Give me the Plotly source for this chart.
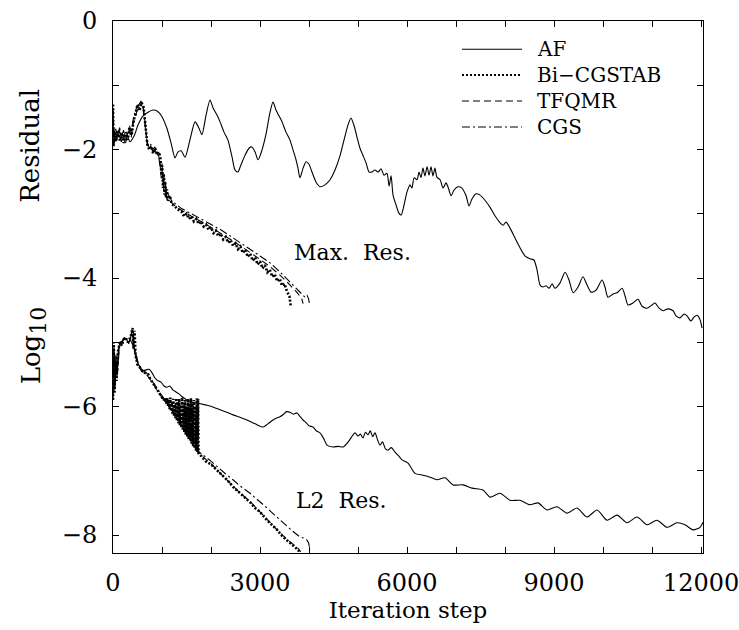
import plotly.graph_objects as go

# ---------------- data (iteration step, log10 residual) ----------------
AF_MAX_X = [0, 60, 120, 185, 265, 345, 430, 510, 610, 715, 815, 900, 1000, 1100, 1185, 1265, 1325, 1390, 1470,
            1570, 1675, 1755, 1815, 1900, 1980, 2040, 2120, 2185, 2265, 2345, 2430, 2490, 2550, 2610, 2695,
            2775, 2835, 2900, 2960, 3040, 3120, 3205, 3265, 3325, 3390, 3450, 3530, 3610, 3675, 3735, 3775,
            3815, 3880, 3940, 4000, 4060, 4145, 4225, 4325, 4430, 4530, 4635, 4715, 4795, 4855, 4920, 4980,
            5040, 5100, 5165, 5225, 5285, 5345, 5410, 5470, 5530, 5590, 5635, 5675, 5715, 5775, 5835, 5880,
            5940, 6000, 6060, 6100, 6145, 6205, 6245, 6285, 6325, 6365, 6410, 6450, 6490, 6530, 6570, 6610,
            6675, 6735, 6795, 6835, 6900, 6960, 7040, 7120, 7205, 7265, 7325, 7410, 7490, 7590, 7695, 7795,
            7900, 7960, 8020, 8100, 8205, 8305, 8410, 8510, 8590, 8655, 8715, 8775, 8840, 8900, 8960, 9020,
            9120, 9225, 9305, 9390, 9490, 9590, 9675, 9755, 9855, 9980, 10040, 10100, 10205, 10285, 10390,
            10450, 10510, 10610, 10715, 10795, 10900, 11000, 11060, 11145, 11225, 11325, 11430, 11490, 11570,
            11655, 11715, 11795, 11855, 11920, 11980, 12020]
AF_MAX_Y = [-1.62, -1.85, -1.70, -1.82, -1.73, -1.88, -1.79, -1.62, -1.48, -1.42, -1.385, -1.40, -1.49, -1.67,
            -1.90, -2.13, -2.04, -2.02, -2.12, -1.85, -1.57, -1.67, -1.77, -1.46, -1.23, -1.35, -1.46, -1.57,
            -1.73, -1.85, -2.12, -2.32, -2.35, -2.24, -2.09, -1.98, -1.96, -2.04, -2.16, -2.01, -1.77, -1.42,
            -1.26, -1.385, -1.48, -1.57, -1.73, -1.85, -2.01, -2.16, -2.29, -2.44, -2.29, -2.19, -2.23, -2.35,
            -2.51, -2.58, -2.55, -2.47, -2.32, -2.09, -1.85, -1.62, -1.51, -1.63, -1.81, -1.98, -2.09, -2.21,
            -2.35, -2.35, -2.32, -2.35, -2.30, -2.40, -2.37, -2.57, -2.41, -2.71, -2.86, -2.99, -3.02, -2.86,
            -2.66, -2.55, -2.60, -2.44, -2.47, -2.35, -2.44, -2.29, -2.41, -2.27, -2.40, -2.27, -2.41, -2.29,
            -2.43, -2.47, -2.60, -2.52, -2.58, -2.72, -2.63, -2.58, -2.60, -2.72, -2.88, -2.77, -2.69, -2.71,
            -2.79, -2.90, -3.03, -3.14, -3.18, -3.13, -3.22, -3.38, -3.53, -3.66, -3.70, -3.72, -3.88, -4.11,
            -4.14, -4.12, -4.16, -4.09, -4.16, -4.08, -3.91, -4.03, -4.23, -4.14, -3.98, -4.11, -4.22, -4.19,
            -4.03, -4.14, -4.30, -4.25, -4.23, -4.16, -4.28, -4.42, -4.39, -4.33, -4.44, -4.47, -4.42, -4.39,
            -4.47, -4.51, -4.48, -4.51, -4.59, -4.62, -4.56, -4.59, -4.67, -4.61, -4.58, -4.65, -4.78]

BI_MAX_X = [0, 10, 30, 60, 100, 140, 180, 220, 260, 300, 340, 380, 420, 460, 500, 540, 580, 620, 660, 700, 740,
            780, 820, 860, 900, 940, 970, 990, 1005, 1020, 1035, 1050, 1065, 1080, 1100, 1130, 1160, 1200, 1260,
            1320, 1400, 1450, 1500, 1550, 1600, 1650, 1700, 1750, 1800, 1850, 1900, 1950, 2000, 2050, 2100,
            2150, 2200, 2250, 2300, 2350, 2400, 2450, 2500, 2550, 2600, 2650, 2700, 2750, 2800, 2850, 2900,
            2950, 3000, 3050, 3100, 3150, 3200, 3250, 3300, 3350, 3400, 3450, 3500, 3550, 3600, 3630]
BI_MAX_Y = [-1.30, -1.95, -1.72, -1.88, -1.70, -1.86, -1.74, -1.90, -1.76, -1.85, -1.66, -1.78, -1.55, -1.45,
            -1.30, -1.40, -1.27, -1.32, -1.60, -1.92, -2.00, -1.95, -2.06, -1.98, -2.08, -2.04, -2.15, -2.40,
            -2.25, -2.60, -2.38, -2.70, -2.50, -2.75, -2.62, -2.80, -2.72, -2.85, -2.88, -2.93, -2.97, -3.04,
            -3.00, -3.08, -3.04, -3.12, -3.08, -3.16, -3.12, -3.20, -3.17, -3.25, -3.21, -3.30, -3.26, -3.35,
            -3.31, -3.40, -3.36, -3.45, -3.41, -3.50, -3.46, -3.55, -3.51, -3.61, -3.56, -3.67, -3.62, -3.73,
            -3.68, -3.79, -3.74, -3.85, -3.80, -3.91, -3.87, -3.98, -3.94, -4.05, -4.01, -4.12, -4.09, -4.21,
            -4.28, -4.45]

TF_MAX_X = [0, 20, 50, 90, 130, 170, 210, 250, 290, 330, 370, 410, 450, 490, 530, 570, 610, 650, 690, 730, 770,
            810, 850, 890, 930, 960, 985, 1010, 1040, 1070, 1100, 1150, 1200, 1300, 1400, 1600, 1800, 2000, 2200,
            2400, 2600, 2800, 3000, 3200, 3400, 3600, 3750, 3850, 3880]
TF_MAX_Y = [-1.35, -1.90, -1.75, -1.85, -1.72, -1.88, -1.78, -1.92, -1.80, -1.70, -1.82, -1.60, -1.50, -1.38,
            -1.30, -1.25, -1.30, -1.55, -1.85, -1.98, -1.94, -2.03, -2.00, -2.06, -2.10, -2.20, -2.45, -2.30,
            -2.65, -2.55, -2.78, -2.76, -2.83, -2.90, -2.95, -3.04, -3.12, -3.21, -3.30, -3.40, -3.50, -3.60,
            -3.71, -3.82, -3.95, -4.10, -4.22, -4.32, -4.40]

CG_MAX_X = [0, 25, 55, 95, 135, 175, 215, 255, 295, 335, 375, 415, 455, 495, 535, 575, 615, 655, 695, 735, 775,
            815, 855, 895, 935, 965, 1000, 1030, 1060, 1090, 1130, 1200, 1300, 1400, 1600, 1800, 2000, 2200,
            2400, 2600, 2800, 3000, 3200, 3400, 3600, 3800, 3920, 3960, 3990, 4010]
CG_MAX_Y = [-1.40, -1.80, -1.68, -1.82, -1.66, -1.80, -1.70, -1.86, -1.74, -1.62, -1.75, -1.52, -1.40, -1.33,
            -1.36, -1.28, -1.35, -1.65, -1.90, -1.96, -1.92, -2.00, -1.96, -2.05, -2.12, -2.30, -2.22, -2.55,
            -2.45, -2.72, -2.70, -2.80, -2.86, -2.92, -3.00, -3.08, -3.16, -3.25, -3.35, -3.45, -3.55, -3.65,
            -3.76, -3.90, -4.05, -4.20, -4.30, -4.27, -4.32, -4.40]

AF_L2_X = [0, 15, 35, 55, 80, 110, 150, 190, 230, 270, 310, 350, 390, 430, 470, 510, 560, 620, 680, 740, 800,
           860, 920, 980, 1040, 1100, 1160, 1220, 1280, 1340, 1400, 1470, 1550, 1650, 1750, 1850, 1920, 2050,
           2185, 2320, 2450, 2600, 2735, 2900, 3060, 3160, 3265, 3340, 3408, 3480, 3540, 3612, 3680, 3755, 3810,
           3878, 3940, 4000, 4082, 4150, 4224, 4300, 4367, 4490, 4600, 4700, 4800, 4939, 5000, 5050, 5102, 5150,
           5204, 5250, 5300, 5347, 5400, 5449, 5500, 5560, 5612, 5680, 5755, 5820, 5898, 6020, 6163, 6327, 6469,
           6612, 6776, 6939, 7143, 7327, 7551, 7694, 7898, 8102, 8306, 8510, 8673, 8857, 9061, 9265, 9469, 9673,
           9878, 10082, 10286, 10490, 10694, 10898, 11102, 11306, 11510, 11673, 11837, 11980, 12040]
AF_L2_Y = [-5.90, -5.10, -5.75, -5.25, -5.55, -5.12, -5.00, -4.98, -4.93, -4.95, -5.00, -4.96, -5.02, -5.10,
           -5.25, -5.33, -5.40, -5.44, -5.43, -5.42, -5.48, -5.56, -5.60, -5.62, -5.68, -5.70, -5.68, -5.74,
           -5.77, -5.80, -5.84, -5.88, -5.92, -5.94, -5.95, -5.97, -5.98, -6.01, -6.05, -6.09, -6.13, -6.17,
           -6.21, -6.27, -6.32, -6.27, -6.21, -6.18, -6.16, -6.12, -6.08, -6.09, -6.12, -6.10, -6.15, -6.21,
           -6.25, -6.30, -6.32, -6.38, -6.41, -6.50, -6.60, -6.63, -6.62, -6.63, -6.55, -6.41, -6.46, -6.43,
           -6.49, -6.40, -6.44, -6.38, -6.47, -6.41, -6.52, -6.60, -6.55, -6.66, -6.68, -6.64, -6.71, -6.76,
           -6.83, -6.88, -7.04, -7.07, -7.10, -7.14, -7.11, -7.22, -7.22, -7.27, -7.30, -7.41, -7.35, -7.46,
           -7.46, -7.53, -7.50, -7.61, -7.56, -7.66, -7.58, -7.72, -7.61, -7.77, -7.69, -7.81, -7.72, -7.84,
           -7.77, -7.88, -7.81, -7.84, -7.92, -7.88, -7.80]

BI_L2_X = [0, 15, 30, 50, 70, 100, 140, 180, 220, 260, 300, 340, 370, 400, 420, 440, 460, 500, 540, 600, 660,
           720, 760, 820, 880, 930, 990, 1005, 1020, 1035, 1050, 1065, 1080, 1095, 1110, 1125, 1140, 1155, 1170,
           1185, 1200, 1215, 1230, 1245, 1260, 1275, 1290, 1305, 1320, 1335, 1350, 1365, 1380, 1395, 1410, 1425,
           1440, 1455, 1470, 1485, 1500, 1515, 1530, 1545, 1560, 1575, 1590, 1605, 1620, 1635, 1650, 1665, 1680,
           1695, 1710, 1725, 1735, 1745, 1800, 1900, 2000, 2122, 2250, 2350, 2449, 2550, 2650, 2796, 2900, 3000,
           3143, 3250, 3350, 3469, 3580, 3680, 3776, 3810]
BI_L2_Y = [-5.90, -5.00, -5.80, -5.30, -5.60, -5.15, -5.00, -5.05, -4.95, -4.93, -5.00, -4.95, -4.88, -4.78,
           -5.10, -4.82, -5.20, -5.35, -5.38, -5.45, -5.48, -5.50, -5.57, -5.64, -5.71, -5.77, -5.84, -5.86,
           -5.88, -5.90, -5.86, -5.93, -5.90, -5.97, -5.87, -6.00, -5.92, -6.04, -5.86, -6.07, -5.95, -6.11,
           -5.88, -6.15, -5.97, -6.18, -5.87, -6.22, -5.93, -6.26, -5.88, -6.29, -5.98, -6.33, -5.86, -6.36,
           -5.94, -6.40, -5.90, -6.44, -6.00, -6.47, -5.88, -6.51, -5.96, -6.54, -5.87, -6.58, -5.95, -6.62,
           -5.90, -6.65, -6.00, -6.69, -5.87, -6.72, -5.88, -6.73, -6.77, -6.86, -6.90, -6.99, -7.10, -7.16,
           -7.25, -7.32, -7.40, -7.49, -7.58, -7.64, -7.77, -7.85, -7.92, -8.03, -8.10, -8.17, -8.23, -8.27]

TF_L2_X = [0, 20, 40, 60, 90, 120, 160, 200, 240, 280, 320, 360, 395, 415, 450, 490, 540, 600, 680, 760, 850,
           950, 1050, 1100, 1150, 1200, 1260, 1320, 1380, 1440, 1500, 1560, 1620, 1680, 1730, 1800, 2000, 2200,
           2400, 2600, 2800, 3000, 3200, 3400, 3600, 3780, 3830]
TF_L2_Y = [-5.85, -5.05, -5.70, -5.20, -5.50, -5.10, -5.02, -4.97, -4.94, -4.97, -5.02, -4.92, -4.80, -5.05,
           -5.15, -5.30, -5.40, -5.46, -5.50, -5.58, -5.68, -5.79, -5.92, -5.88, -6.02, -5.95, -6.14, -6.08,
           -6.26, -6.22, -6.40, -6.38, -6.55, -6.52, -6.70, -6.76, -6.89, -7.05, -7.20, -7.35, -7.48, -7.64,
           -7.80, -7.96, -8.10, -8.21, -8.26]

CG_L2_X = [0, 25, 45, 65, 95, 130, 170, 210, 250, 290, 330, 365, 395, 425, 455, 495, 545, 610, 690, 770, 860,
           960, 1060, 1120, 1180, 1240, 1300, 1360, 1420, 1480, 1540, 1600, 1660, 1720, 1776, 1950, 2122, 2300,
           2449, 2600, 2796, 3000, 3143, 3300, 3469, 3650, 3816, 3900, 3959, 3990, 4020]
CG_L2_Y = [-5.80, -5.15, -5.65, -5.22, -5.45, -5.08, -5.00, -4.96, -4.95, -4.98, -5.03, -4.90, -4.85, -5.08,
           -5.12, -5.28, -5.38, -5.44, -5.48, -5.58, -5.67, -5.78, -5.90, -5.96, -6.04, -6.10, -6.17, -6.24,
           -6.32, -6.40, -6.47, -6.55, -6.62, -6.68, -6.72, -6.82, -6.94, -7.05, -7.14, -7.24, -7.35, -7.48,
           -7.58, -7.69, -7.81, -7.93, -8.03, -8.05, -8.08, -8.12, -8.23]

METHODS = ["AF", "Bi\u2212CGSTAB", "TFQMR", "CGS"]
X_TICKS = [0, 3000, 6000, 9000, 12000]
Y_TICKS = [0, -2, -4, -6, -8]

# ---------------- styles ----------------
FONT = "DejaVu Serif"
STY = {
    "AF": dict(color="black", width=1.1, dash="solid"),
    "Bi\u2212CGSTAB": dict(color="black", width=2.6, dash="2px,1.8px"),
    "TFQMR": dict(color="black", width=1.1, dash="7px,4px"),
    "CGS": dict(color="black", width=1.1, dash="8px,3px,2px,3px"),
}

series = [
    ("AF", AF_MAX_X, AF_MAX_Y), ("AF", AF_L2_X, AF_L2_Y),
    ("CGS", CG_MAX_X, CG_MAX_Y), ("CGS", CG_L2_X, CG_L2_Y),
    ("TFQMR", TF_MAX_X, TF_MAX_Y), ("TFQMR", TF_L2_X, TF_L2_Y),
    ("Bi\u2212CGSTAB", BI_MAX_X, BI_MAX_Y), ("Bi\u2212CGSTAB", BI_L2_X, BI_L2_Y),
]

fig = go.Figure()
for name, xs, ys in series:
    line = dict(STY[name])
    if name == "AF":
        line.update(shape="spline", smoothing=0.7)
    fig.add_trace(go.Scatter(x=xs, y=ys, mode="lines", name=name, showlegend=False,
                             line=line, hoverinfo="skip"))

# manual legend (long line samples like the original)
shapes = []
annotations = []
legend_rows = [0.947, 0.8985, 0.8496, 0.8008]
legend_dash = {"AF": "solid", "Bi\u2212CGSTAB": "2px,2px", "TFQMR": "7px,4px", "CGS": "8px,3px,2px,3px"}
legend_w = {"AF": 1.1, "Bi\u2212CGSTAB": 2.0, "TFQMR": 1.1, "CGS": 1.1}
for name, yy in zip(METHODS, legend_rows):
    shapes.append(dict(type="line", xref="paper", yref="paper", x0=0.5915, x1=0.6932, y0=yy, y1=yy,
                       line=dict(color="black", width=legend_w[name], dash=legend_dash[name])))
    annotations.append(dict(xref="paper", yref="paper", x=0.715, y=yy, text=name, showarrow=False,
                            xanchor="left", yanchor="middle", font=dict(family=FONT, size=20, color="black")))

annotations.append(dict(x=3650, y=-3.60, xref="x", yref="y", text="Max.\u00a0\u00a0Res.", showarrow=False,
                        xanchor="left", yanchor="middle", font=dict(family=FONT, size=22, color="black")))
annotations.append(dict(x=3700, y=-7.46, xref="x", yref="y", text="L2\u00a0\u00a0Res.", showarrow=False,
                        xanchor="left", yanchor="middle", font=dict(family=FONT, size=22, color="black")))
# y-axis title pieces
annotations.append(dict(xref="paper", yref="paper", x=-0.141, y=0.765, text="Residual", showarrow=False,
                        textangle=-90, xanchor="center", yanchor="middle",
                        font=dict(family=FONT, size=26, color="black")))
annotations.append(dict(xref="paper", yref="paper", x=-0.135, y=0.391,
                        text="Log<sub><span style='font-size:22px'>10</span></sub>", showarrow=False,
                        textangle=-90, xanchor="center", yanchor="middle",
                        font=dict(family=FONT, size=26, color="black")))

axis_common = dict(showgrid=False, zeroline=False, showline=True, mirror="ticks", linecolor="black",
                   linewidth=1, ticks="inside", ticklen=6, tickcolor="black", tickwidth=1, automargin=False,
                   ticklabeloverflow="allow", tickfont=dict(family=FONT, size=24, color="black"))

fig.update_layout(
    width=739, height=630,
    margin=dict(l=113, r=36, t=21, b=77, autoexpand=False),
    paper_bgcolor="white", plot_bgcolor="white",
    shapes=shapes, annotations=annotations, showlegend=False,
    xaxis=dict(range=[0, 12040], tickvals=X_TICKS, ticktext=[str(v) for v in X_TICKS],
               minor=dict(dtick=1000, tick0=0, ticks="inside", ticklen=6, tickcolor="black", showgrid=False),
               ticklabelstandoff=8,
               title=dict(text="Iteration step", font=dict(family=FONT, size=23, color="black"), standoff=0),
               **axis_common),
    yaxis=dict(range=[-8.28, 0], tickvals=Y_TICKS,
               minor=dict(dtick=1, tick0=0, ticks="inside", ticklen=6, tickcolor="black", showgrid=False),
               ticklabelstandoff=10, **axis_common),
)

fig.write_html("out.html", config={"displayModeBar": False},
               post_script="document.body.style.margin='0';document.body.style.overflow='hidden';")
